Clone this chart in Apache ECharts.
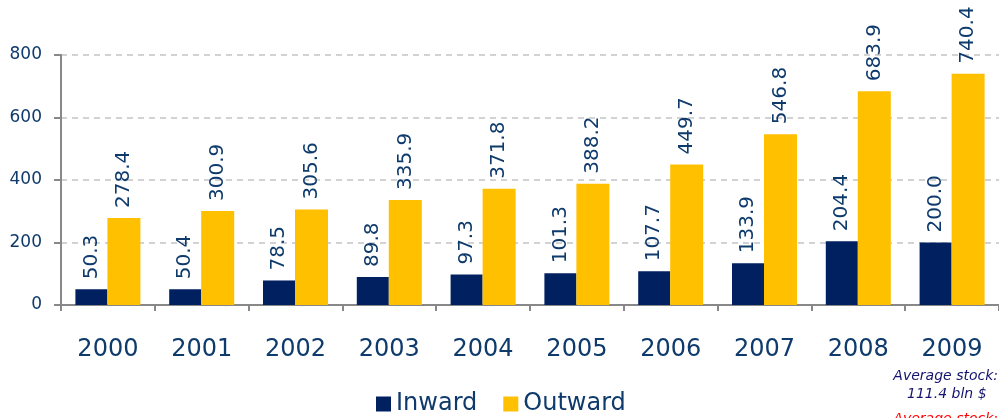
<!DOCTYPE html>
<html>
<head>
<meta charset="utf-8">
<script src="https://cdn.jsdelivr.net/npm/echarts@6/dist/echarts.min.js"></script>
<style>
  html, body { margin: 0; padding: 0; background: #fff; }
  #chart { width: 999px; height: 418px; }
</style>
</head>
<body>
<div id="chart"></div>
<script>
const years = ['2000', '2001', '2002', '2003', '2004', '2005', '2006', '2007', '2008', '2009']
const inward = [50.3, 50.4, 78.5, 89.8, 97.3, 101.3, 107.7, 133.9, 204.4, 200.0]
const outward = [278.4, 300.9, 305.6, 335.9, 371.8, 388.2, 449.7, 546.8, 683.9, 740.4]

const textColor = '#0e3a6c'
const font = 'DejaVu Sans'

const chart = echarts.init(document.getElementById('chart'))

// 数据标签：竖排，放在柱子上方
const barLabel = {
  show: true,
  position: 'top',
  rotate: 90,
  align: 'left',
  verticalAlign: 'middle',
  distance: 10,
  color: textColor,
  fontFamily: font,
  fontSize: 20,
  formatter: (p) => p.value.toFixed(1)
}

chart.setOption({
  animation: false,
  grid: { left: 61, right: 0, top: 55, bottom: 113 },
  legend: {
    data: ['Inward', 'Outward'],
    left: 371,
    top: 387,
    itemWidth: 15,
    itemHeight: 15,
    itemGap: 26,
    icon: 'rect',
    textStyle: { color: textColor, fontFamily: font, fontSize: 24 }
  },
  xAxis: {
    type: 'category',
    data: years,
    axisLine: { lineStyle: { color: '#888', width: 2 } },
    axisTick: { show: true, length: 6, lineStyle: { color: '#888', width: 2 } },
    axisLabel: { color: textColor, fontFamily: font, fontSize: 24, margin: 33 }
  },
  yAxis: {
    type: 'value',
    min: 0,
    max: 800,
    interval: 200,
    axisLine: { show: true, lineStyle: { color: '#888', width: 2 } },
    axisTick: { show: true, length: 7, lineStyle: { color: '#888', width: 2 } },
    axisLabel: { color: textColor, fontFamily: font, fontSize: 17, margin: 19 },
    splitLine: { lineStyle: { color: '#c4c4c4', type: [6, 5], width: 1.5 } }
  },
  series: [
    {
      name: 'Inward',
      type: 'bar',
      data: inward,
      barWidth: 32,
      barGap: '0%',
      itemStyle: { color: '#002060' },
      label: barLabel
    },
    {
      name: 'Outward',
      type: 'bar',
      data: outward,
      barWidth: 33,
      itemStyle: { color: '#ffc000' },
      label: barLabel
    }
  ],
  graphic: [
    {
      type: 'text',
      right: 1,
      top: 369,
      style: { text: 'Average stock:', fill: '#14146e', font: 'italic 14px "DejaVu Sans"' }
    },
    {
      type: 'text',
      left: 907,
      top: 387,
      style: { text: '111.4 bln $', fill: '#14146e', font: 'italic 14px "DejaVu Sans"' }
    },
    {
      type: 'text',
      right: 1,
      top: 412,
      style: { text: 'Average stock:', fill: '#ff0000', font: 'italic 14px "DejaVu Sans"' }
    }
  ]
})
</script>
</body>
</html>
